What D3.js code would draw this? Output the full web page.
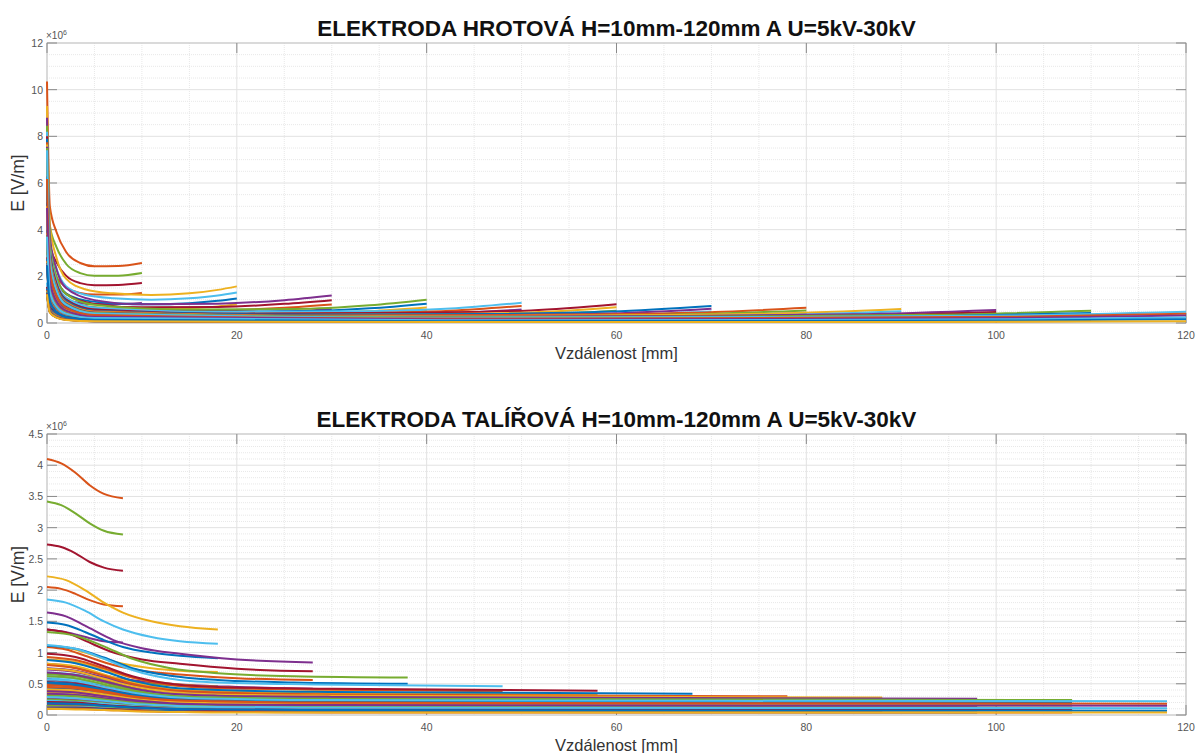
<!DOCTYPE html>
<html>
<head>
<meta charset="utf-8">
<script src="https://cdn.jsdelivr.net/npm/d3@7"></script>
<style>
  body { margin: 0; background: #fff; }
  svg { font-family: "Liberation Sans", Arial, sans-serif; }
</style>
</head>
<body>
<div id="chart"></div>
<script>
// napeti (kV) a vzdalenosti elektrod (mm)
const voltages = [30, 25, 20, 15, 10, 5];
const gaps = [10, 20, 30, 40, 50, 60, 70, 80, 90, 100, 110, 120];

// HROTOVA - x body [mm] pro kazdou vzdalenost
const hrotX = [
  [0, 0.3, 1, 2, 3.5, 5, 7.5, 10],
  [0, 0.3, 1, 2, 4, 7, 11, 15, 18, 20],
  [0, 0.3, 1, 2, 5, 10, 18, 25, 30],
  [0, 0.3, 1, 2, 5, 14, 26, 34, 40],
  [0, 0.3, 1, 2, 5, 17.5, 32.5, 42.5, 50],
  [0, 0.3, 1, 2, 5, 21, 39, 51, 60],
  [0, 0.3, 1, 2, 5, 24.5, 45.5, 59.5, 70],
  [0, 0.3, 1, 2, 5, 28, 52, 68, 80],
  [0, 0.3, 1, 2, 5, 31.5, 58.5, 76.5, 90],
  [0, 0.3, 1, 2, 5, 35, 65, 85, 100],
  [0, 0.3, 1, 2, 5, 38.5, 71.5, 93.5, 110],
  [0, 0.3, 1, 2, 5, 42, 78, 102, 120]
];
// HROTOVA - E [x10^6 V/m], radky = napeti 30..5 kV
const hrotE = [
  [[10.35, 5.0, 3.9, 3.05, 2.57, 2.43, 2.44, 2.57],
   [8.63, 4.17, 3.25, 2.54, 2.14, 2.03, 2.03, 2.14],
   [6.90, 3.33, 2.60, 2.03, 1.71, 1.62, 1.63, 1.71],
   [5.18, 2.50, 1.95, 1.53, 1.29, 1.22, 1.22, 1.29],
   [3.45, 1.67, 1.30, 1.02, 0.86, 0.81, 0.81, 0.86],
   [1.73, 0.83, 0.65, 0.51, 0.43, 0.41, 0.41, 0.43]],
  [[9.3, 4.2, 2.8, 1.9, 1.45, 1.27, 1.2, 1.27, 1.42, 1.57],
   [7.75, 3.5, 2.33, 1.58, 1.21, 1.06, 1.0, 1.06, 1.18, 1.31],
   [6.2, 2.8, 1.87, 1.27, 0.97, 0.85, 0.8, 0.85, 0.95, 1.05],
   [4.65, 2.1, 1.4, 0.95, 0.73, 0.64, 0.6, 0.64, 0.71, 0.79],
   [3.1, 1.4, 0.93, 0.63, 0.48, 0.42, 0.4, 0.42, 0.47, 0.52],
   [1.55, 0.7, 0.47, 0.32, 0.24, 0.21, 0.2, 0.21, 0.24, 0.26]],
  [[8.8, 3.7, 2.3, 1.5, 0.98, 0.8, 0.83, 0.98, 1.18],
   [7.33, 3.08, 1.92, 1.25, 0.82, 0.67, 0.69, 0.82, 0.98],
   [5.87, 2.47, 1.53, 1.0, 0.65, 0.53, 0.55, 0.65, 0.79],
   [4.4, 1.85, 1.15, 0.75, 0.49, 0.4, 0.42, 0.49, 0.59],
   [2.93, 1.23, 0.77, 0.5, 0.33, 0.27, 0.28, 0.33, 0.39],
   [1.47, 0.62, 0.38, 0.25, 0.16, 0.13, 0.14, 0.16, 0.2]],
  [[8.45, 3.4, 2.0, 1.25, 0.78, 0.58, 0.6, 0.76, 1.0],
   [7.04, 2.83, 1.67, 1.04, 0.65, 0.48, 0.5, 0.63, 0.83],
   [5.63, 2.27, 1.33, 0.83, 0.52, 0.39, 0.4, 0.51, 0.67],
   [4.23, 1.7, 1.0, 0.63, 0.39, 0.29, 0.3, 0.38, 0.5],
   [2.82, 1.13, 0.67, 0.42, 0.26, 0.19, 0.2, 0.25, 0.33],
   [1.41, 0.57, 0.33, 0.21, 0.13, 0.1, 0.1, 0.13, 0.17]],
  [[8.2, 3.2, 1.8, 1.1, 0.66, 0.47, 0.5, 0.62, 0.87],
   [6.83, 2.67, 1.5, 0.92, 0.55, 0.39, 0.42, 0.52, 0.73],
   [5.47, 2.13, 1.2, 0.73, 0.44, 0.31, 0.33, 0.41, 0.58],
   [4.1, 1.6, 0.9, 0.55, 0.33, 0.24, 0.25, 0.31, 0.44],
   [2.73, 1.07, 0.6, 0.37, 0.22, 0.16, 0.17, 0.21, 0.29],
   [1.37, 0.53, 0.3, 0.18, 0.11, 0.08, 0.08, 0.1, 0.15]],
  [[8.0, 3.1, 1.7, 1.0, 0.58, 0.4, 0.44, 0.54, 0.8],
   [6.67, 2.58, 1.42, 0.83, 0.48, 0.33, 0.37, 0.45, 0.67],
   [5.33, 2.07, 1.13, 0.67, 0.39, 0.27, 0.29, 0.36, 0.53],
   [4.0, 1.55, 0.85, 0.5, 0.29, 0.2, 0.22, 0.27, 0.4],
   [2.67, 1.03, 0.57, 0.33, 0.19, 0.13, 0.15, 0.18, 0.27],
   [1.33, 0.52, 0.28, 0.17, 0.1, 0.07, 0.07, 0.09, 0.13]],
  [[7.9, 3.0, 1.6, 0.95, 0.53, 0.36, 0.39, 0.49, 0.73],
   [6.58, 2.5, 1.33, 0.79, 0.44, 0.3, 0.33, 0.41, 0.61],
   [5.27, 2.0, 1.07, 0.63, 0.35, 0.24, 0.26, 0.33, 0.49],
   [3.95, 1.5, 0.8, 0.48, 0.27, 0.18, 0.2, 0.25, 0.37],
   [2.63, 1.0, 0.53, 0.32, 0.18, 0.12, 0.13, 0.16, 0.24],
   [1.32, 0.5, 0.27, 0.16, 0.09, 0.06, 0.07, 0.08, 0.12]],
  [[7.75, 2.9, 1.55, 0.9, 0.5, 0.32, 0.35, 0.44, 0.65],
   [6.46, 2.42, 1.29, 0.75, 0.42, 0.27, 0.29, 0.37, 0.54],
   [5.17, 1.93, 1.03, 0.6, 0.33, 0.21, 0.23, 0.29, 0.43],
   [3.88, 1.45, 0.78, 0.45, 0.25, 0.16, 0.18, 0.22, 0.33],
   [2.58, 0.97, 0.52, 0.3, 0.17, 0.11, 0.12, 0.15, 0.22],
   [1.29, 0.48, 0.26, 0.15, 0.08, 0.05, 0.06, 0.07, 0.11]],
  [[7.65, 2.85, 1.5, 0.87, 0.47, 0.29, 0.32, 0.4, 0.6],
   [6.38, 2.38, 1.25, 0.73, 0.39, 0.24, 0.27, 0.33, 0.5],
   [5.1, 1.9, 1.0, 0.58, 0.31, 0.19, 0.21, 0.27, 0.4],
   [3.83, 1.43, 0.75, 0.44, 0.24, 0.15, 0.16, 0.2, 0.3],
   [2.55, 0.95, 0.5, 0.29, 0.16, 0.1, 0.11, 0.13, 0.2],
   [1.28, 0.48, 0.25, 0.15, 0.08, 0.05, 0.05, 0.07, 0.1]],
  [[7.55, 2.8, 1.45, 0.84, 0.45, 0.27, 0.3, 0.37, 0.56],
   [6.29, 2.33, 1.21, 0.7, 0.38, 0.23, 0.25, 0.31, 0.47],
   [5.03, 1.87, 0.97, 0.56, 0.3, 0.18, 0.2, 0.25, 0.37],
   [3.78, 1.4, 0.73, 0.42, 0.23, 0.14, 0.15, 0.19, 0.28],
   [2.52, 0.93, 0.48, 0.28, 0.15, 0.09, 0.1, 0.12, 0.19],
   [1.26, 0.47, 0.24, 0.14, 0.08, 0.05, 0.05, 0.06, 0.09]],
  [[7.5, 2.75, 1.42, 0.81, 0.43, 0.25, 0.28, 0.35, 0.52],
   [6.25, 2.29, 1.18, 0.68, 0.36, 0.21, 0.23, 0.29, 0.43],
   [5.0, 1.83, 0.95, 0.54, 0.29, 0.17, 0.19, 0.23, 0.35],
   [3.75, 1.38, 0.71, 0.41, 0.22, 0.13, 0.14, 0.18, 0.26],
   [2.5, 0.92, 0.47, 0.27, 0.14, 0.08, 0.09, 0.12, 0.17],
   [1.25, 0.46, 0.24, 0.14, 0.07, 0.04, 0.05, 0.06, 0.09]],
  [[7.4, 2.7, 1.4, 0.79, 0.41, 0.23, 0.26, 0.32, 0.48],
   [6.17, 2.25, 1.17, 0.66, 0.34, 0.19, 0.22, 0.27, 0.4],
   [4.93, 1.8, 0.93, 0.53, 0.27, 0.15, 0.17, 0.21, 0.32],
   [3.7, 1.35, 0.7, 0.4, 0.21, 0.12, 0.13, 0.16, 0.24],
   [2.47, 0.9, 0.47, 0.26, 0.14, 0.08, 0.09, 0.11, 0.16],
   [1.23, 0.45, 0.23, 0.13, 0.07, 0.04, 0.04, 0.05, 0.08]]
];

// TALIROVA - x body [mm]
const talirX = [
  [0, 1.5, 3, 4.5, 6, 8],
  [0, 2, 4, 6, 8, 11, 14, 18],
  [0, 2, 4, 7, 10, 14, 20, 28],
  [0, 3, 6, 9, 13, 18, 26, 38],
  [0, 3, 6, 9, 13, 18, 28, 48],
  [0, 3, 6, 9, 13, 18, 30, 58],
  [0, 3, 6, 9, 13, 18, 30, 68],
  [0, 3, 6, 9, 13, 18, 30, 78],
  [0, 3, 6, 9, 13, 18, 30, 88],
  [0, 3, 6, 9, 13, 18, 30, 98],
  [0, 3, 6, 9, 13, 18, 30, 108],
  [0, 3, 6, 9, 13, 18, 30, 118]
];
// TALIROVA - E [x10^6 V/m], radky = napeti 30..5 kV
const talirE = [
  [[4.10, 4.03, 3.88, 3.68, 3.54, 3.47],
   [3.42, 3.36, 3.23, 3.07, 2.95, 2.89],
   [2.73, 2.69, 2.59, 2.45, 2.36, 2.31],
   [2.05, 2.02, 1.94, 1.84, 1.77, 1.74],
   [1.37, 1.34, 1.29, 1.23, 1.18, 1.16],
   [0.68, 0.67, 0.65, 0.61, 0.59, 0.58]],
  [[2.22, 2.16, 2.0, 1.8, 1.64, 1.5, 1.42, 1.37],
   [1.85, 1.8, 1.67, 1.5, 1.37, 1.25, 1.18, 1.14],
   [1.48, 1.44, 1.33, 1.2, 1.09, 1.0, 0.95, 0.91],
   [1.11, 1.08, 1.0, 0.9, 0.82, 0.75, 0.71, 0.69],
   [0.74, 0.72, 0.67, 0.6, 0.55, 0.5, 0.47, 0.46],
   [0.37, 0.36, 0.33, 0.3, 0.27, 0.25, 0.24, 0.23]],
  [[1.64, 1.58, 1.43, 1.2, 1.07, 0.98, 0.89, 0.84],
   [1.37, 1.32, 1.19, 1.0, 0.89, 0.82, 0.74, 0.7],
   [1.09, 1.05, 0.95, 0.8, 0.71, 0.65, 0.59, 0.56],
   [0.82, 0.79, 0.72, 0.6, 0.54, 0.49, 0.45, 0.42],
   [0.55, 0.53, 0.48, 0.4, 0.36, 0.33, 0.3, 0.28],
   [0.27, 0.26, 0.24, 0.2, 0.18, 0.16, 0.15, 0.14]],
  [[1.33, 1.27, 1.1, 0.9, 0.75, 0.67, 0.62, 0.6],
   [1.11, 1.06, 0.92, 0.75, 0.63, 0.56, 0.52, 0.5],
   [0.89, 0.85, 0.73, 0.6, 0.5, 0.45, 0.41, 0.4],
   [0.67, 0.64, 0.55, 0.45, 0.38, 0.34, 0.31, 0.3],
   [0.44, 0.42, 0.37, 0.3, 0.25, 0.22, 0.21, 0.2],
   [0.22, 0.21, 0.18, 0.15, 0.13, 0.11, 0.1, 0.1]],
  [[1.12, 1.06, 0.9, 0.72, 0.58, 0.52, 0.49, 0.46],
   [0.93, 0.88, 0.75, 0.6, 0.48, 0.43, 0.41, 0.38],
   [0.75, 0.71, 0.6, 0.48, 0.39, 0.35, 0.33, 0.31],
   [0.56, 0.53, 0.45, 0.36, 0.29, 0.26, 0.25, 0.23],
   [0.37, 0.35, 0.3, 0.24, 0.19, 0.17, 0.16, 0.15],
   [0.19, 0.18, 0.15, 0.12, 0.1, 0.09, 0.08, 0.08]],
  [[0.98, 0.93, 0.78, 0.62, 0.5, 0.45, 0.42, 0.39],
   [0.82, 0.78, 0.65, 0.52, 0.42, 0.38, 0.35, 0.33],
   [0.65, 0.62, 0.52, 0.41, 0.33, 0.3, 0.28, 0.26],
   [0.49, 0.47, 0.39, 0.31, 0.25, 0.23, 0.21, 0.2],
   [0.33, 0.31, 0.26, 0.21, 0.17, 0.15, 0.14, 0.13],
   [0.16, 0.16, 0.13, 0.1, 0.08, 0.08, 0.07, 0.07]],
  [[0.88, 0.83, 0.7, 0.55, 0.44, 0.4, 0.37, 0.34],
   [0.73, 0.69, 0.58, 0.46, 0.37, 0.33, 0.31, 0.28],
   [0.59, 0.55, 0.47, 0.37, 0.29, 0.27, 0.25, 0.23],
   [0.44, 0.42, 0.35, 0.28, 0.22, 0.2, 0.19, 0.17],
   [0.29, 0.28, 0.23, 0.18, 0.15, 0.13, 0.12, 0.11],
   [0.15, 0.14, 0.12, 0.09, 0.07, 0.07, 0.06, 0.06]],
  [[0.8, 0.75, 0.63, 0.5, 0.4, 0.36, 0.33, 0.3],
   [0.67, 0.63, 0.53, 0.42, 0.33, 0.3, 0.28, 0.25],
   [0.53, 0.5, 0.42, 0.33, 0.27, 0.24, 0.22, 0.2],
   [0.4, 0.38, 0.32, 0.25, 0.2, 0.18, 0.17, 0.15],
   [0.27, 0.25, 0.21, 0.17, 0.13, 0.12, 0.11, 0.1],
   [0.13, 0.13, 0.11, 0.08, 0.07, 0.06, 0.06, 0.05]],
  [[0.74, 0.7, 0.58, 0.46, 0.37, 0.33, 0.31, 0.28],
   [0.62, 0.58, 0.48, 0.38, 0.31, 0.28, 0.26, 0.23],
   [0.49, 0.47, 0.39, 0.31, 0.25, 0.22, 0.21, 0.19],
   [0.37, 0.35, 0.29, 0.23, 0.19, 0.17, 0.16, 0.14],
   [0.25, 0.23, 0.19, 0.15, 0.12, 0.11, 0.1, 0.09],
   [0.12, 0.12, 0.1, 0.08, 0.06, 0.06, 0.05, 0.05]],
  [[0.68, 0.64, 0.54, 0.43, 0.34, 0.31, 0.29, 0.26],
   [0.57, 0.53, 0.45, 0.36, 0.28, 0.26, 0.24, 0.22],
   [0.45, 0.43, 0.36, 0.29, 0.23, 0.21, 0.19, 0.17],
   [0.34, 0.32, 0.27, 0.22, 0.17, 0.16, 0.15, 0.13],
   [0.23, 0.21, 0.18, 0.14, 0.11, 0.1, 0.1, 0.09],
   [0.11, 0.11, 0.09, 0.07, 0.06, 0.05, 0.05, 0.04]],
  [[0.62, 0.59, 0.49, 0.39, 0.31, 0.28, 0.26, 0.24],
   [0.52, 0.49, 0.41, 0.33, 0.26, 0.23, 0.22, 0.2],
   [0.41, 0.39, 0.33, 0.26, 0.21, 0.19, 0.17, 0.16],
   [0.31, 0.3, 0.25, 0.2, 0.16, 0.14, 0.13, 0.12],
   [0.21, 0.2, 0.16, 0.13, 0.1, 0.09, 0.09, 0.08],
   [0.1, 0.1, 0.08, 0.07, 0.05, 0.05, 0.04, 0.04]],
  [[0.57, 0.54, 0.45, 0.36, 0.29, 0.26, 0.24, 0.22],
   [0.48, 0.45, 0.38, 0.3, 0.24, 0.22, 0.2, 0.18],
   [0.38, 0.36, 0.3, 0.24, 0.19, 0.17, 0.16, 0.15],
   [0.29, 0.27, 0.23, 0.18, 0.15, 0.13, 0.12, 0.11],
   [0.19, 0.18, 0.15, 0.12, 0.1, 0.09, 0.08, 0.07],
   [0.1, 0.09, 0.08, 0.06, 0.05, 0.04, 0.04, 0.04]]
];

const xTicks = [0, 20, 40, 60, 80, 100, 120];
const yTicksTop = [0, 2, 4, 6, 8, 10, 12];
const yTicksBottom = [0, 0.5, 1, 1.5, 2, 2.5, 3, 3.5, 4, 4.5];

// MATLAB barvy + posun barvy pro kazde napeti
const colors = ["#0072BD", "#D95319", "#EDB120", "#7E2F8E", "#77AC30", "#4DBEEE", "#A2142F"];
const colorOffset = [1, 4, 6, 8, 10, 12];

const W = 1196, H = 753;
const svg = d3.select("#chart").append("svg")
  .attr("width", W).attr("height", H);

function panel(opt) {
  const left = 47, right = 1186;
  const x = d3.scaleLinear().domain([0, 120]).range([left, right]);
  const y = d3.scaleLinear().domain([0, opt.yMax]).range([opt.bottom, opt.top]);
  const g = svg.append("g");

  // minor grid
  const xMinor = d3.range(0, 121, 5).filter(v => v % 20 !== 0);
  const yMinor = d3.range(0, opt.yMax + 1e-9, opt.minor)
    .filter(v => !opt.yTicks.some(t => Math.abs(t - v) < 1e-6));
  g.selectAll(".xminor").data(xMinor).join("line")
    .attr("x1", d => x(d)).attr("x2", d => x(d))
    .attr("y1", opt.top).attr("y2", opt.bottom)
    .attr("stroke", "#e8e8e8").attr("stroke-dasharray", "1,1");
  g.selectAll(".yminor").data(yMinor).join("line")
    .attr("x1", left).attr("x2", right)
    .attr("y1", d => y(d)).attr("y2", d => y(d))
    .attr("stroke", "#e8e8e8").attr("stroke-dasharray", "1,1");
  // major grid
  g.selectAll(".xgrid").data(xTicks).join("line")
    .attr("x1", d => x(d)).attr("x2", d => x(d))
    .attr("y1", opt.top).attr("y2", opt.bottom)
    .attr("stroke", "#e2e2e2");
  g.selectAll(".ygrid").data(opt.yTicks).join("line")
    .attr("x1", left).attr("x2", right)
    .attr("y1", d => y(d)).attr("y2", d => y(d))
    .attr("stroke", "#e2e2e2");

  // box + ticks
  g.append("rect")
    .attr("x", left).attr("y", opt.top)
    .attr("width", right - left).attr("height", opt.bottom - opt.top)
    .attr("fill", "none").attr("stroke", "#c4c4c4");
  const tl = 10;
  g.selectAll(".xt").data(xTicks).join("path")
    .attr("d", d => `M${x(d)},${opt.bottom}v${-tl}M${x(d)},${opt.top}v${tl}`)
    .attr("stroke", "#8a8a8a");
  g.selectAll(".yt").data(opt.yTicks).join("path")
    .attr("d", d => `M${left},${y(d)}h${tl}M${right},${y(d)}h${-tl}`)
    .attr("stroke", "#8a8a8a");

  // tick labels
  g.selectAll(".xl").data(xTicks).join("text")
    .attr("x", d => x(d)).attr("y", opt.bottom + 16)
    .attr("text-anchor", "middle").attr("font-size", 10.5).attr("fill", "#555")
    .text(d => d);
  g.selectAll(".yl").data(opt.yTicks).join("text")
    .attr("x", left - 4).attr("y", d => y(d) + 4)
    .attr("text-anchor", "end").attr("font-size", 10.5).attr("fill", "#555")
    .text(d => d);
  const ex = g.append("text").attr("x", left - 1).attr("y", opt.top - 4)
    .attr("font-size", 10).attr("fill", "#555");
  ex.append("tspan").text("\u00d710");
  ex.append("tspan").attr("dy", -4).attr("font-size", 7).text("6");

  // data lines
  const line = d3.line().x(d => x(d.x)).y(d => y(d.e)).curve(d3.curveMonotoneX);
  const series = [];
  gaps.forEach((gap, gi) => {
    voltages.forEach((u, ui) => {
      series.push({
        gap, u,
        color: colors[(gi + colorOffset[ui]) % colors.length],
        pts: opt.xs[gi].map((xv, k) => ({ x: xv, e: opt.es[gi][ui][k] }))
      });
    });
  });
  g.selectAll(".ser").data(series).join("path")
    .attr("fill", "none").attr("stroke", d => d.color)
    .attr("stroke-width", 2).attr("stroke-linejoin", "round")
    .attr("d", d => line(d.pts));

  // titles
  g.append("text").attr("x", (left + right) / 2).attr("y", opt.top - 7)
    .attr("text-anchor", "middle").attr("font-size", 22.5).attr("font-weight", "bold")
    .attr("fill", "#111").text(opt.title);
  g.append("text").attr("x", (left + right) / 2).attr("y", opt.bottom + 36)
    .attr("text-anchor", "middle").attr("font-size", 16.5).attr("fill", "#333")
    .text("Vzdálenost [mm]");
  g.append("text")
    .attr("transform", `translate(24,${(opt.top + opt.bottom) / 2}) rotate(-90)`)
    .attr("text-anchor", "middle").attr("font-size", 17.5).attr("fill", "#333")
    .text("E [V/m]");
}

panel({
  top: 43, bottom: 323, yMax: 12, yTicks: yTicksTop, minor: 0.5,
  title: "ELEKTRODA HROTOVÁ H=10mm-120mm A U=5kV-30kV",
  xs: hrotX, es: hrotE
});
panel({
  top: 434, bottom: 715, yMax: 4.5, yTicks: yTicksBottom, minor: 0.1,
  title: "ELEKTRODA TALÍŘOVÁ H=10mm-120mm A U=5kV-30kV",
  xs: talirX, es: talirE
});
</script>
</body>
</html>
